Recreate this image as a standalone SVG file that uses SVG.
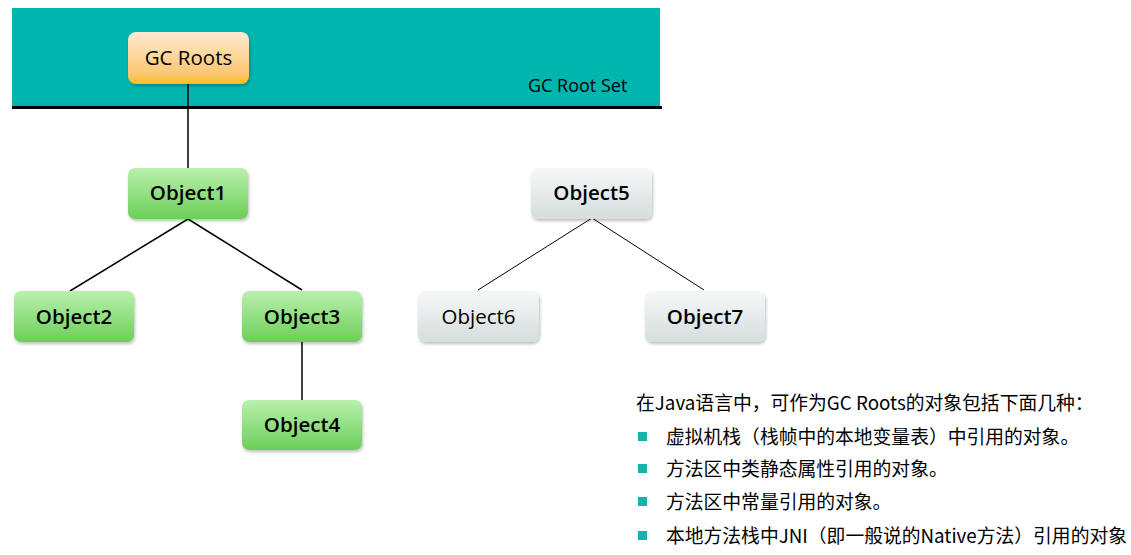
<svg xmlns="http://www.w3.org/2000/svg" width="1131" height="555" viewBox="0 0 1131 555">
<defs>
<linearGradient id="gGreen" x1="0" y1="0" x2="0" y2="1"><stop offset="0" stop-color="#b9f0ad"/><stop offset="1" stop-color="#6ccf58"/></linearGradient>
<linearGradient id="gGray" x1="0" y1="0" x2="0" y2="1"><stop offset="0" stop-color="#f6f8f8"/><stop offset="1" stop-color="#d5dddd"/></linearGradient>
<linearGradient id="gOrange" x1="0" y1="0" x2="0" y2="1"><stop offset="0" stop-color="#fdebd0"/><stop offset="0.8" stop-color="#fbc774"/><stop offset="1" stop-color="#f7c11a"/></linearGradient>
<filter id="sh" x="-20%" y="-20%" width="140%" height="150%"><feDropShadow dx="1" dy="2" stdDeviation="1.5" flood-color="#000" flood-opacity="0.25"/></filter>
</defs>
<style>
.lbl{font-family:"Open Sans","Liberation Sans",sans-serif;font-size:20.5px;fill:#000;text-anchor:middle}
.b{font-weight:600}
.node{filter:url(#sh)}
.conn line{stroke:#000;stroke-width:1.5}
.cn{font-family:"Noto Sans CJK SC","Open Sans",sans-serif;font-size:18.8px;fill:#000}
.bul{fill:#14b2ac}
</style>
<rect x="12" y="8" width="648" height="98" fill="#00b5ad"/>
<line x1="12" y1="107.5" x2="662" y2="107.5" stroke="#000" stroke-width="3"/>
<text x="528" y="92" font-family="'Open Sans','Liberation Sans',sans-serif" font-size="18" fill="#000">GC Root Set</text>
<g class="conn">
<line x1="188" y1="84" x2="188" y2="168"/>
<line x1="188" y1="219" x2="70" y2="291"/>
<line x1="188" y1="219" x2="302" y2="290"/>
<line x1="302" y1="342" x2="302" y2="400"/>
<line x1="592" y1="218" x2="478" y2="290" style="stroke-width:1"/>
<line x1="592" y1="218" x2="704" y2="290" style="stroke-width:1"/>
</g>
<g id="gcroots"><rect class="node" x="128" y="32" width="121" height="52" rx="8" fill="url(#gOrange)"/><text class="lbl" x="188.5" y="65" font-weight="500">GC Roots</text></g>
<g id="object1"><rect class="node" x="128" y="168" width="120" height="51" rx="7" fill="url(#gGreen)"/><text class="lbl b" x="188" y="200">Object1</text></g>
<g id="object2"><rect class="node" x="14" y="291" width="120" height="51" rx="7" fill="url(#gGreen)"/><text class="lbl b" x="74" y="324">Object2</text></g>
<g id="object3"><rect class="node" x="242" y="291" width="120" height="51" rx="7" fill="url(#gGreen)"/><text class="lbl b" x="302" y="324">Object3</text></g>
<g id="object4"><rect class="node" x="242" y="400" width="120" height="50" rx="7" fill="url(#gGreen)"/><text class="lbl b" x="302" y="432">Object4</text></g>
<g id="object5"><rect class="node" x="531" y="168" width="121" height="51" rx="7" fill="url(#gGray)"/><text class="lbl b" x="591.5" y="200">Object5</text></g>
<g id="object6"><rect class="node" x="418" y="291" width="121" height="51" rx="7" fill="url(#gGray)"/><text class="lbl" x="478.5" y="324">Object6</text></g>
<g id="object7"><rect class="node" x="645" y="291" width="120" height="51" rx="7" fill="url(#gGray)"/><text class="lbl b" x="705" y="324">Object7</text></g>
<g id="notes">
<text class="cn" x="636" y="410">在Java语言中，可作为GC Roots的对象包括下面几种：</text>
<rect class="bul" x="638" y="432" width="9" height="9"/>
<text class="cn" x="666" y="444">虚拟机栈（栈帧中的本地变量表）中引用的对象。</text>
<rect class="bul" x="638" y="464" width="9" height="9"/>
<text class="cn" x="666" y="476">方法区中类静态属性引用的对象。</text>
<rect class="bul" x="638" y="497" width="9" height="9"/>
<text class="cn" x="666" y="509">方法区中常量引用的对象。</text>
<rect class="bul" x="638" y="531" width="9" height="9"/>
<text class="cn" x="666" y="543">本地方法栈中JNI（即一般说的Native方法）引用的对象</text>
</g>
</svg>
